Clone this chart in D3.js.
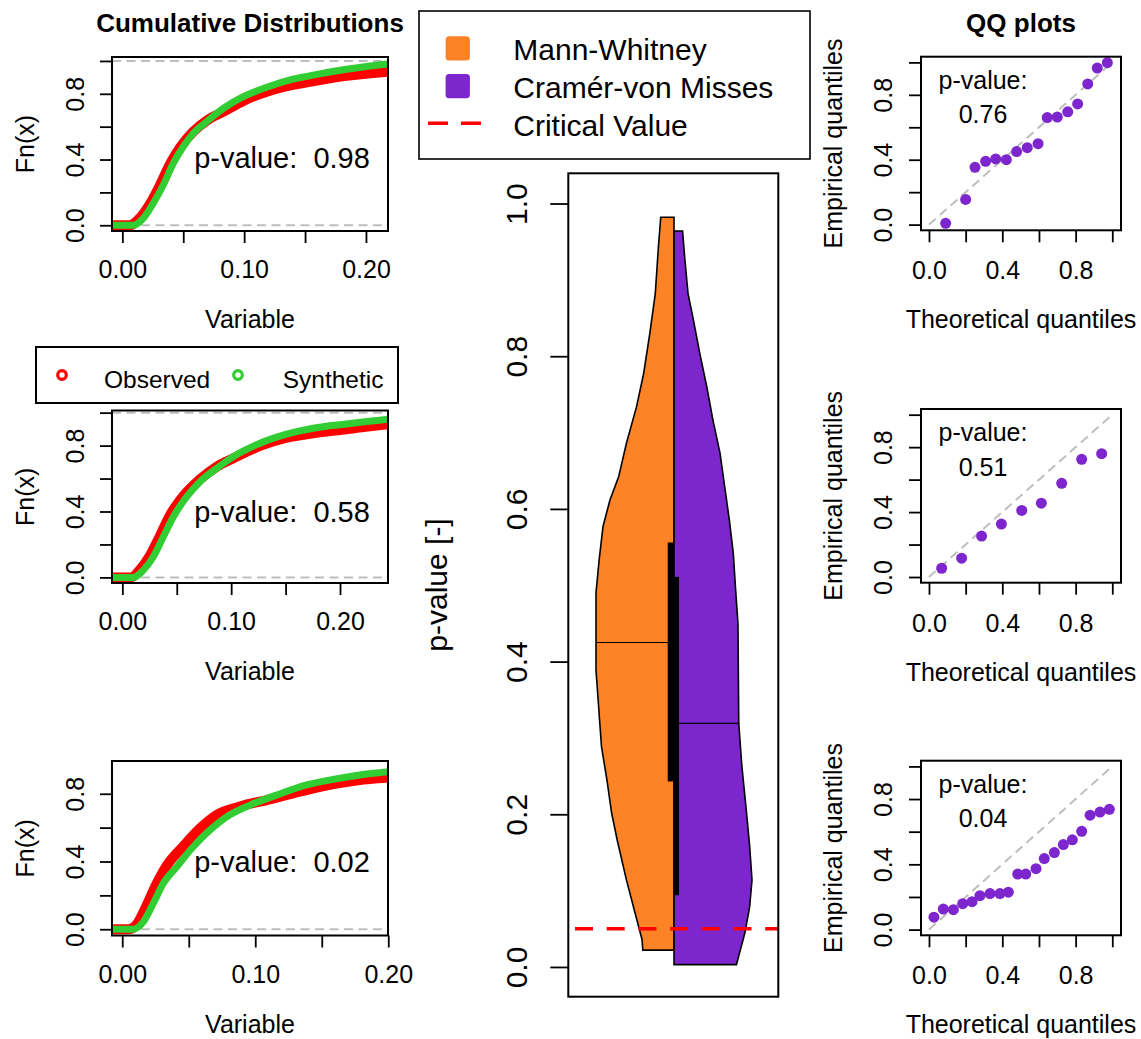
<!DOCTYPE html>
<html><head><meta charset="utf-8">
<script src="https://cdn.jsdelivr.net/npm/d3@7"></script>
<style>
body{margin:0;background:#fff}
svg{display:block}
text{font-family:"Liberation Sans",Arial,Helvetica,sans-serif;fill:#000}
</style>
</head><body>
<svg id="chart" width="1141" height="1039"></svg>
<script>
// ---------------- DATA ----------------
const cdfPValues = ["0.98", "0.58", "0.02"];
// ECDF traces: [variable, Fn(x)]
const observed1 = [[-0.03,0],[0.006,0],[0.0145,0.045],[0.0227,0.13],[0.031,0.245],[0.039,0.37],[0.0473,0.472],[0.0583,0.57],[0.0693,0.637],[0.083,0.691],[0.0993,0.757],[0.1185,0.813],[0.140,0.854],[0.162,0.884],[0.184,0.909],[0.218,0.935],[0.23,0.94]];
const synthetic1 = [[-0.03,0],[0.009,0],[0.0173,0.043],[0.0254,0.134],[0.0336,0.245],[0.0418,0.377],[0.05,0.478],[0.0583,0.56],[0.0693,0.631],[0.0829,0.712],[0.0993,0.783],[0.1185,0.840],[0.140,0.889],[0.162,0.921],[0.184,0.949],[0.218,0.982],[0.23,0.99]];
const observed2 = [[-0.03,0],[0.008,0],[0.0163,0.047],[0.0254,0.132],[0.0346,0.252],[0.0438,0.378],[0.056,0.494],[0.0714,0.596],[0.0867,0.672],[0.102,0.723],[0.1265,0.798],[0.151,0.848],[0.1755,0.875],[0.206,0.899],[0.2444,0.93],[0.26,0.94]];
const synthetic2 = [[-0.03,0],[0.010,0],[0.0193,0.044],[0.0285,0.125],[0.0377,0.247],[0.0469,0.368],[0.0592,0.49],[0.0714,0.581],[0.0867,0.662],[0.102,0.733],[0.1265,0.814],[0.151,0.869],[0.1755,0.905],[0.206,0.931],[0.2444,0.96],[0.26,0.97]];
const observed3 = [[-0.03,0],[0.005,0],[0.0108,0.028],[0.0183,0.14],[0.0259,0.27],[0.0334,0.375],[0.0459,0.49],[0.0584,0.595],[0.071,0.675],[0.0885,0.725],[0.1086,0.763],[0.1336,0.812],[0.1587,0.857],[0.1787,0.881],[0.2,0.897],[0.21,0.905]];
const synthetic3 = [[-0.03,0],[0.0083,0],[0.0158,0.043],[0.0233,0.152],[0.0308,0.27],[0.0409,0.368],[0.0534,0.487],[0.0659,0.585],[0.0785,0.664],[0.096,0.733],[0.116,0.792],[0.1386,0.852],[0.1587,0.885],[0.1787,0.911],[0.2,0.93],[0.21,0.94]];

const cdfXTicks = [0, 0.05, 0.10, 0.15, 0.20];
const cdfXTickLabels = ["0.00", "", "0.10", "", "0.20"];
const unitTicks = [0, 0.2, 0.4, 0.6, 0.8, 1.0];
const unitTickLabelsSparse = ["0.0", "", "0.4", "", "0.8", ""];
const unitTickLabelsFull = ["0.0", "0.2", "0.4", "0.6", "0.8", "1.0"];

// Violin: [p-value, relative density]
const mwDensity = [[0.982,0.17],[0.943,0.20],[0.882,0.24],[0.830,0.31],[0.777,0.39],[0.734,0.48],[0.686,0.61],[0.642,0.71],[0.612,0.82],[0.577,0.91],[0.533,0.96],[0.490,1.0],[0.389,1.0],[0.332,0.96],[0.289,0.93],[0.245,0.86],[0.202,0.80],[0.167,0.73],[0.114,0.61],[0.071,0.50],[0.036,0.41],[0.022,0.40]];
const cvmDensity = [[0.964,0.11],[0.926,0.14],[0.882,0.18],[0.847,0.25],[0.804,0.33],[0.760,0.42],[0.716,0.50],[0.673,0.59],[0.629,0.65],[0.585,0.71],[0.542,0.76],[0.494,0.79],[0.450,0.82],[0.319,0.83],[0.263,0.87],[0.202,0.93],[0.158,0.97],[0.114,1.0],[0.079,0.97],[0.045,0.91],[0.003,0.80]];
const mwQuartiles = [0.243, 0.425, 0.556];
const cvmQuartiles = [0.094, 0.319, 0.511];
const criticalValue = 0.05;
const violinLegend = ["Mann-Whitney", "Cramér-von Misses", "Critical Value"];
const cdfLegend = ["Observed", "Synthetic"];

// QQ plots
const qqPValues = ["0.76", "0.51", "0.04"];
const qqTheoretical1 = [0.091,0.200,0.251,0.309,0.364,0.422,0.478,0.536,0.595,0.645,0.700,0.757,0.811,0.866,0.918,0.973];
const qqEmpirical1   = [0.008,0.155,0.353,0.390,0.405,0.400,0.450,0.474,0.499,0.660,0.663,0.695,0.744,0.867,0.965,0.998];
const qqTheoretical2 = [0.069,0.178,0.287,0.395,0.506,0.613,0.724,0.833,0.942];
const qqEmpirical2   = [0.054,0.116,0.252,0.326,0.410,0.455,0.577,0.725,0.760];
const qqTheoretical3 = [0.027,0.078,0.133,0.184,0.235,0.278,0.333,0.387,0.433,0.484,0.528,0.584,0.629,0.684,0.733,0.782,0.833,0.879,0.933,0.984];
const qqEmpirical3   = [0.076,0.126,0.122,0.159,0.171,0.208,0.221,0.221,0.229,0.340,0.340,0.373,0.435,0.472,0.521,0.550,0.602,0.701,0.720,0.737];

// ---------------- STYLE / LAYOUT ----------------
const RED = "#FF0000", GREEN = "#32CD32", ORANGE = "#FD8326", PURPLE = "#7D26CD", GREY = "#BEBEBE";
const svg = d3.select("#chart");

const cdfPanels = [
  {obs: observed1, syn: synthetic1, p: cdfPValues[0], top: 57, bottom: 231, xd: [-0.0085, 0.2181], yd: [-0.035, 1.024]},
  {obs: observed2, syn: synthetic2, p: cdfPValues[1], top: 410.5, bottom: 583, xd: [-0.0095, 0.2441], yd: [-0.034, 1.013]},
  {obs: observed3, syn: synthetic3, p: cdfPValues[2], top: 761, bottom: 935.5, xd: [-0.0077, 0.1998], yd: [-0.037, 0.9935]}
];
const qqPanels = [
  {t: qqTheoretical1, e: qqEmpirical1, p: qqPValues[0], top: 56.7, bottom: 230.3},
  {t: qqTheoretical2, e: qqEmpirical2, p: qqPValues[1], top: 409, bottom: 582.7},
  {t: qqTheoretical3, e: qqEmpirical3, p: qqPValues[2], top: 760.7, bottom: 935.3}
];

function styleYAxis(g, offset, fs) {
  g.attr("font-family", null).attr("font-size", null);
  g.select(".domain").remove();
  g.selectAll(".tick line").attr("stroke", "#000").attr("stroke-width", 1.8);
  g.selectAll(".tick text")
    .attr("x", 0).attr("y", 0).attr("dy", null)
    .attr("text-anchor", "middle")
    .attr("transform", `translate(${-offset},0) rotate(-90)`)
    .style("font-size", fs + "px").style("fill", "#000");
}
function styleXAxis(g, offset, fs) {
  g.attr("font-family", null).attr("font-size", null);
  g.select(".domain").remove();
  g.selectAll(".tick line").attr("stroke", "#000").attr("stroke-width", 1.8);
  g.selectAll(".tick text")
    .attr("y", offset).attr("dy", null)
    .style("font-size", fs + "px").style("fill", "#000");
}
function fmt(values, labels) { return d => labels[values.indexOf(d)]; }

// ---------------- CDF PANELS ----------------
const cdfL = 112, cdfR = 388;
svg.append("text").attr("x", (cdfL + cdfR) / 2).attr("y", 31.7).attr("text-anchor", "middle")
  .style("font-size", "26px").style("font-weight", "bold").text("Cumulative Distributions");

cdfPanels.forEach((P, i) => {
  const x = d3.scaleLinear().domain(P.xd).range([cdfL, cdfR]);
  const y = d3.scaleLinear().domain(P.yd).range([P.bottom, P.top]);
  const g = svg.append("g");
  const cid = "clipcdf" + i;
  g.append("clipPath").attr("id", cid).append("rect")
    .attr("x", cdfL).attr("y", P.top).attr("width", cdfR - cdfL).attr("height", P.bottom - P.top);
  const inner = g.append("g").attr("clip-path", `url(#${cid})`);
  [0, 1].forEach(v => inner.append("line")
    .attr("x1", cdfL).attr("x2", cdfR).attr("y1", y(v)).attr("y2", y(v))
    .attr("stroke", GREY).attr("stroke-width", 2).attr("stroke-dasharray", "9,5.5"));
  const line = d3.line().x(d => x(d[0])).y(d => y(d[1])).curve(d3.curveMonotoneX);
  inner.append("path").datum(P.obs).attr("d", line).attr("fill", "none")
    .attr("stroke", RED).attr("stroke-width", 10).attr("stroke-linejoin", "round");
  inner.append("path").datum(P.syn).attr("d", line).attr("fill", "none")
    .attr("stroke", GREEN).attr("stroke-width", 7).attr("stroke-linejoin", "round");
  g.append("rect").attr("x", cdfL).attr("y", P.top).attr("width", cdfR - cdfL).attr("height", P.bottom - P.top)
    .attr("fill", "none").attr("stroke", "#000").attr("stroke-width", 2);
  const yv = unitTicks.filter(v => v >= P.yd[0] && v <= P.yd[1]);
  g.append("g").attr("transform", `translate(${cdfL},0)`)
    .call(d3.axisLeft(y).tickValues(yv).tickFormat(fmt(unitTicks, unitTickLabelsSparse)).tickSize(12).tickSizeOuter(0))
    .call(a => styleYAxis(a, 28.5, 25));
  g.append("g").attr("transform", `translate(0,${P.bottom})`)
    .call(d3.axisBottom(x).tickValues(cdfXTicks).tickFormat(fmt(cdfXTicks, cdfXTickLabels)).tickSize(12).tickSizeOuter(0))
    .call(a => styleXAxis(a, 47, 25));
  g.append("text").attr("x", 282).attr("y", P.top + 111).attr("text-anchor", "middle")
    .style("font-size", "29px").style("white-space", "pre").text("p-value:  " + P.p);
  g.append("text").attr("transform", `translate(34,${(P.top + P.bottom) / 2}) rotate(-90)`)
    .attr("text-anchor", "middle").style("font-size", "25px").text("Fn(x)");
  g.append("text").attr("x", (cdfL + cdfR) / 2).attr("y", P.bottom + 97).attr("text-anchor", "middle")
    .style("font-size", "25px").text("Variable");
});

// CDF legend
const lg = svg.append("g");
lg.append("rect").attr("x", 36).attr("y", 347).attr("width", 362).attr("height", 56)
  .attr("fill", "#fff").attr("stroke", "#000").attr("stroke-width", 2);
[[RED, 62, 104], [GREEN, 238, 282.7]].forEach((c, i) => {
  lg.append("circle").attr("cx", c[1]).attr("cy", 375).attr("r", 4.3)
    .attr("fill", "none").attr("stroke", c[0]).attr("stroke-width", 3.2);
  lg.append("text").attr("x", c[2]).attr("y", 388).style("font-size", "24.5px").text(cdfLegend[i]);
});

// ---------------- VIOLIN ----------------
const vL = 568.3, vR = 778.3, vT = 173.3, vB = 996.7;
const yV = d3.scaleLinear().domain([-0.04, 1.04]).range([997.5, 173]);
const xV = d3.scaleLinear().domain([-1.355, 1.337]).range([vL, vR]);
const vg = svg.append("g");

function halfPath(dens, sign) {
  const top = dens[0][0], bot = dens[dens.length - 1][0];
  const pts = [[0, top]].concat(dens.map(d => [sign * d[1], d[0]])).concat([[0, bot]]);
  return d3.line().x(d => xV(d[0])).y(d => yV(d[1]))(pts) + "Z";
}
function densAt(dens, p) {
  for (let k = 0; k < dens.length - 1; k++) {
    const a = dens[k], b = dens[k + 1];
    if (p <= a[0] && p >= b[0]) return a[1] + (b[1] - a[1]) * (a[0] - p) / (a[0] - b[0]);
  }
  return 0;
}
vg.append("path").attr("d", halfPath(mwDensity, -1)).attr("fill", ORANGE)
  .attr("stroke", "#000").attr("stroke-width", 1.6).attr("stroke-linejoin", "miter");
vg.append("path").attr("d", halfPath(cvmDensity, 1)).attr("fill", PURPLE)
  .attr("stroke", "#000").attr("stroke-width", 1.6).attr("stroke-linejoin", "miter");
// medians
vg.append("line").attr("x1", xV(-densAt(mwDensity, mwQuartiles[1]))).attr("x2", xV(0))
  .attr("y1", yV(mwQuartiles[1])).attr("y2", yV(mwQuartiles[1])).attr("stroke", "#000").attr("stroke-width", 1.2);
vg.append("line").attr("x1", xV(0)).attr("x2", xV(densAt(cvmDensity, cvmQuartiles[1])))
  .attr("y1", yV(cvmQuartiles[1])).attr("y2", yV(cvmQuartiles[1])).attr("stroke", "#000").attr("stroke-width", 1.2);
// IQR bars
vg.append("rect").attr("x", xV(0) - 6.3).attr("width", 6.3)
  .attr("y", yV(mwQuartiles[2])).attr("height", yV(mwQuartiles[0]) - yV(mwQuartiles[2])).attr("fill", "#000");
vg.append("rect").attr("x", xV(0)).attr("width", 5)
  .attr("y", yV(cvmQuartiles[2])).attr("height", yV(cvmQuartiles[0]) - yV(cvmQuartiles[2])).attr("fill", "#000");
// critical value
vg.append("line").attr("x1", 575).attr("x2", vR).attr("y1", yV(criticalValue)).attr("y2", yV(criticalValue))
  .attr("stroke", RED).attr("stroke-width", 3.5).attr("stroke-dasharray", "18,13.7");
vg.append("rect").attr("x", vL).attr("y", vT).attr("width", vR - vL).attr("height", vB - vT)
  .attr("fill", "none").attr("stroke", "#000").attr("stroke-width", 2);
vg.append("g").attr("transform", `translate(${vL},0)`)
  .call(d3.axisLeft(yV).tickValues(unitTicks).tickFormat(fmt(unitTicks, unitTickLabelsFull)).tickSize(18).tickSizeOuter(0))
  .call(a => styleYAxis(a, 41.6, 30));
vg.append("text").attr("transform", `translate(447,${(vT + vB) / 2}) rotate(-90)`)
  .attr("text-anchor", "middle").style("font-size", "30px").text("p-value [-]");

// violin legend
const vlg = svg.append("g");
vlg.append("rect").attr("x", 419).attr("y", 11).attr("width", 391).attr("height", 148)
  .attr("fill", "#fff").attr("stroke", "#000").attr("stroke-width", 1.6);
vlg.append("rect").attr("x", 445.6).attr("y", 36.2).attr("width", 24.3).attr("height", 24.3).attr("rx", 3.5).attr("fill", ORANGE);
vlg.append("rect").attr("x", 445.6).attr("y", 73.9).attr("width", 24.3).attr("height", 24.3).attr("rx", 3.5).attr("fill", PURPLE);
vlg.append("line").attr("x1", 428).attr("x2", 481).attr("y1", 123.3).attr("y2", 123.3)
  .attr("stroke", RED).attr("stroke-width", 3.5).attr("stroke-dasharray", "20,13");
[59.5, 98, 136].forEach((yy, i) => vlg.append("text").attr("x", 513.3).attr("y", yy)
  .style("font-size", "30px").text(violinLegend[i]));

// ---------------- QQ PANELS ----------------
const qL = 921, qR = 1121;
svg.append("text").attr("x", (qL + qR) / 2).attr("y", 31.7).attr("text-anchor", "middle")
  .style("font-size", "26px").style("font-weight", "bold").text("QQ plots");
qqPanels.forEach((P, i) => {
  const x = d3.scaleLinear().domain([-0.0436, 1.0475]).range([qL, qR]);
  const y = d3.scaleLinear().domain([-0.035, 1.035]).range([P.bottom, P.top]);
  const g = svg.append("g");
  const cid = "clipqq" + i;
  g.append("clipPath").attr("id", cid).append("rect")
    .attr("x", qL).attr("y", P.top).attr("width", qR - qL).attr("height", P.bottom - P.top);
  const inner = g.append("g").attr("clip-path", `url(#${cid})`);
  inner.append("line").attr("x1", x(0)).attr("y1", y(0)).attr("x2", x(1)).attr("y2", y(1))
    .attr("stroke", GREY).attr("stroke-width", 2).attr("stroke-dasharray", "9,5.5");
  inner.selectAll("circle").data(P.t.map((t, k) => [t, P.e[k]])).join("circle")
    .attr("cx", d => x(d[0])).attr("cy", d => y(d[1])).attr("r", 5.5).attr("fill", PURPLE);
  g.append("rect").attr("x", qL).attr("y", P.top).attr("width", qR - qL).attr("height", P.bottom - P.top)
    .attr("fill", "none").attr("stroke", "#000").attr("stroke-width", 2);
  g.append("g").attr("transform", `translate(${qL},0)`)
    .call(d3.axisLeft(y).tickValues(unitTicks).tickFormat(fmt(unitTicks, unitTickLabelsSparse)).tickSize(12).tickSizeOuter(0))
    .call(a => styleYAxis(a, 28.7, 25));
  g.append("g").attr("transform", `translate(0,${P.bottom})`)
    .call(d3.axisBottom(x).tickValues(unitTicks).tickFormat(fmt(unitTicks, unitTickLabelsSparse)).tickSize(12).tickSizeOuter(0))
    .call(a => styleXAxis(a, 49, 25));
  g.append("text").attr("x", 983).attr("y", P.top + 32).attr("text-anchor", "middle")
    .style("font-size", "25px").text("p-value:");
  g.append("text").attr("x", 983).attr("y", P.top + 66.5).attr("text-anchor", "middle")
    .style("font-size", "25px").text(P.p);
  g.append("text").attr("transform", `translate(842,${(P.top + P.bottom) / 2}) rotate(-90)`)
    .attr("text-anchor", "middle").style("font-size", "25px").text("Empirical quantiles");
  g.append("text").attr("x", (qL + qR) / 2).attr("y", P.bottom + 98).attr("text-anchor", "middle")
    .style("font-size", "25px").text("Theoretical quantiles");
});
</script>
</body></html>
